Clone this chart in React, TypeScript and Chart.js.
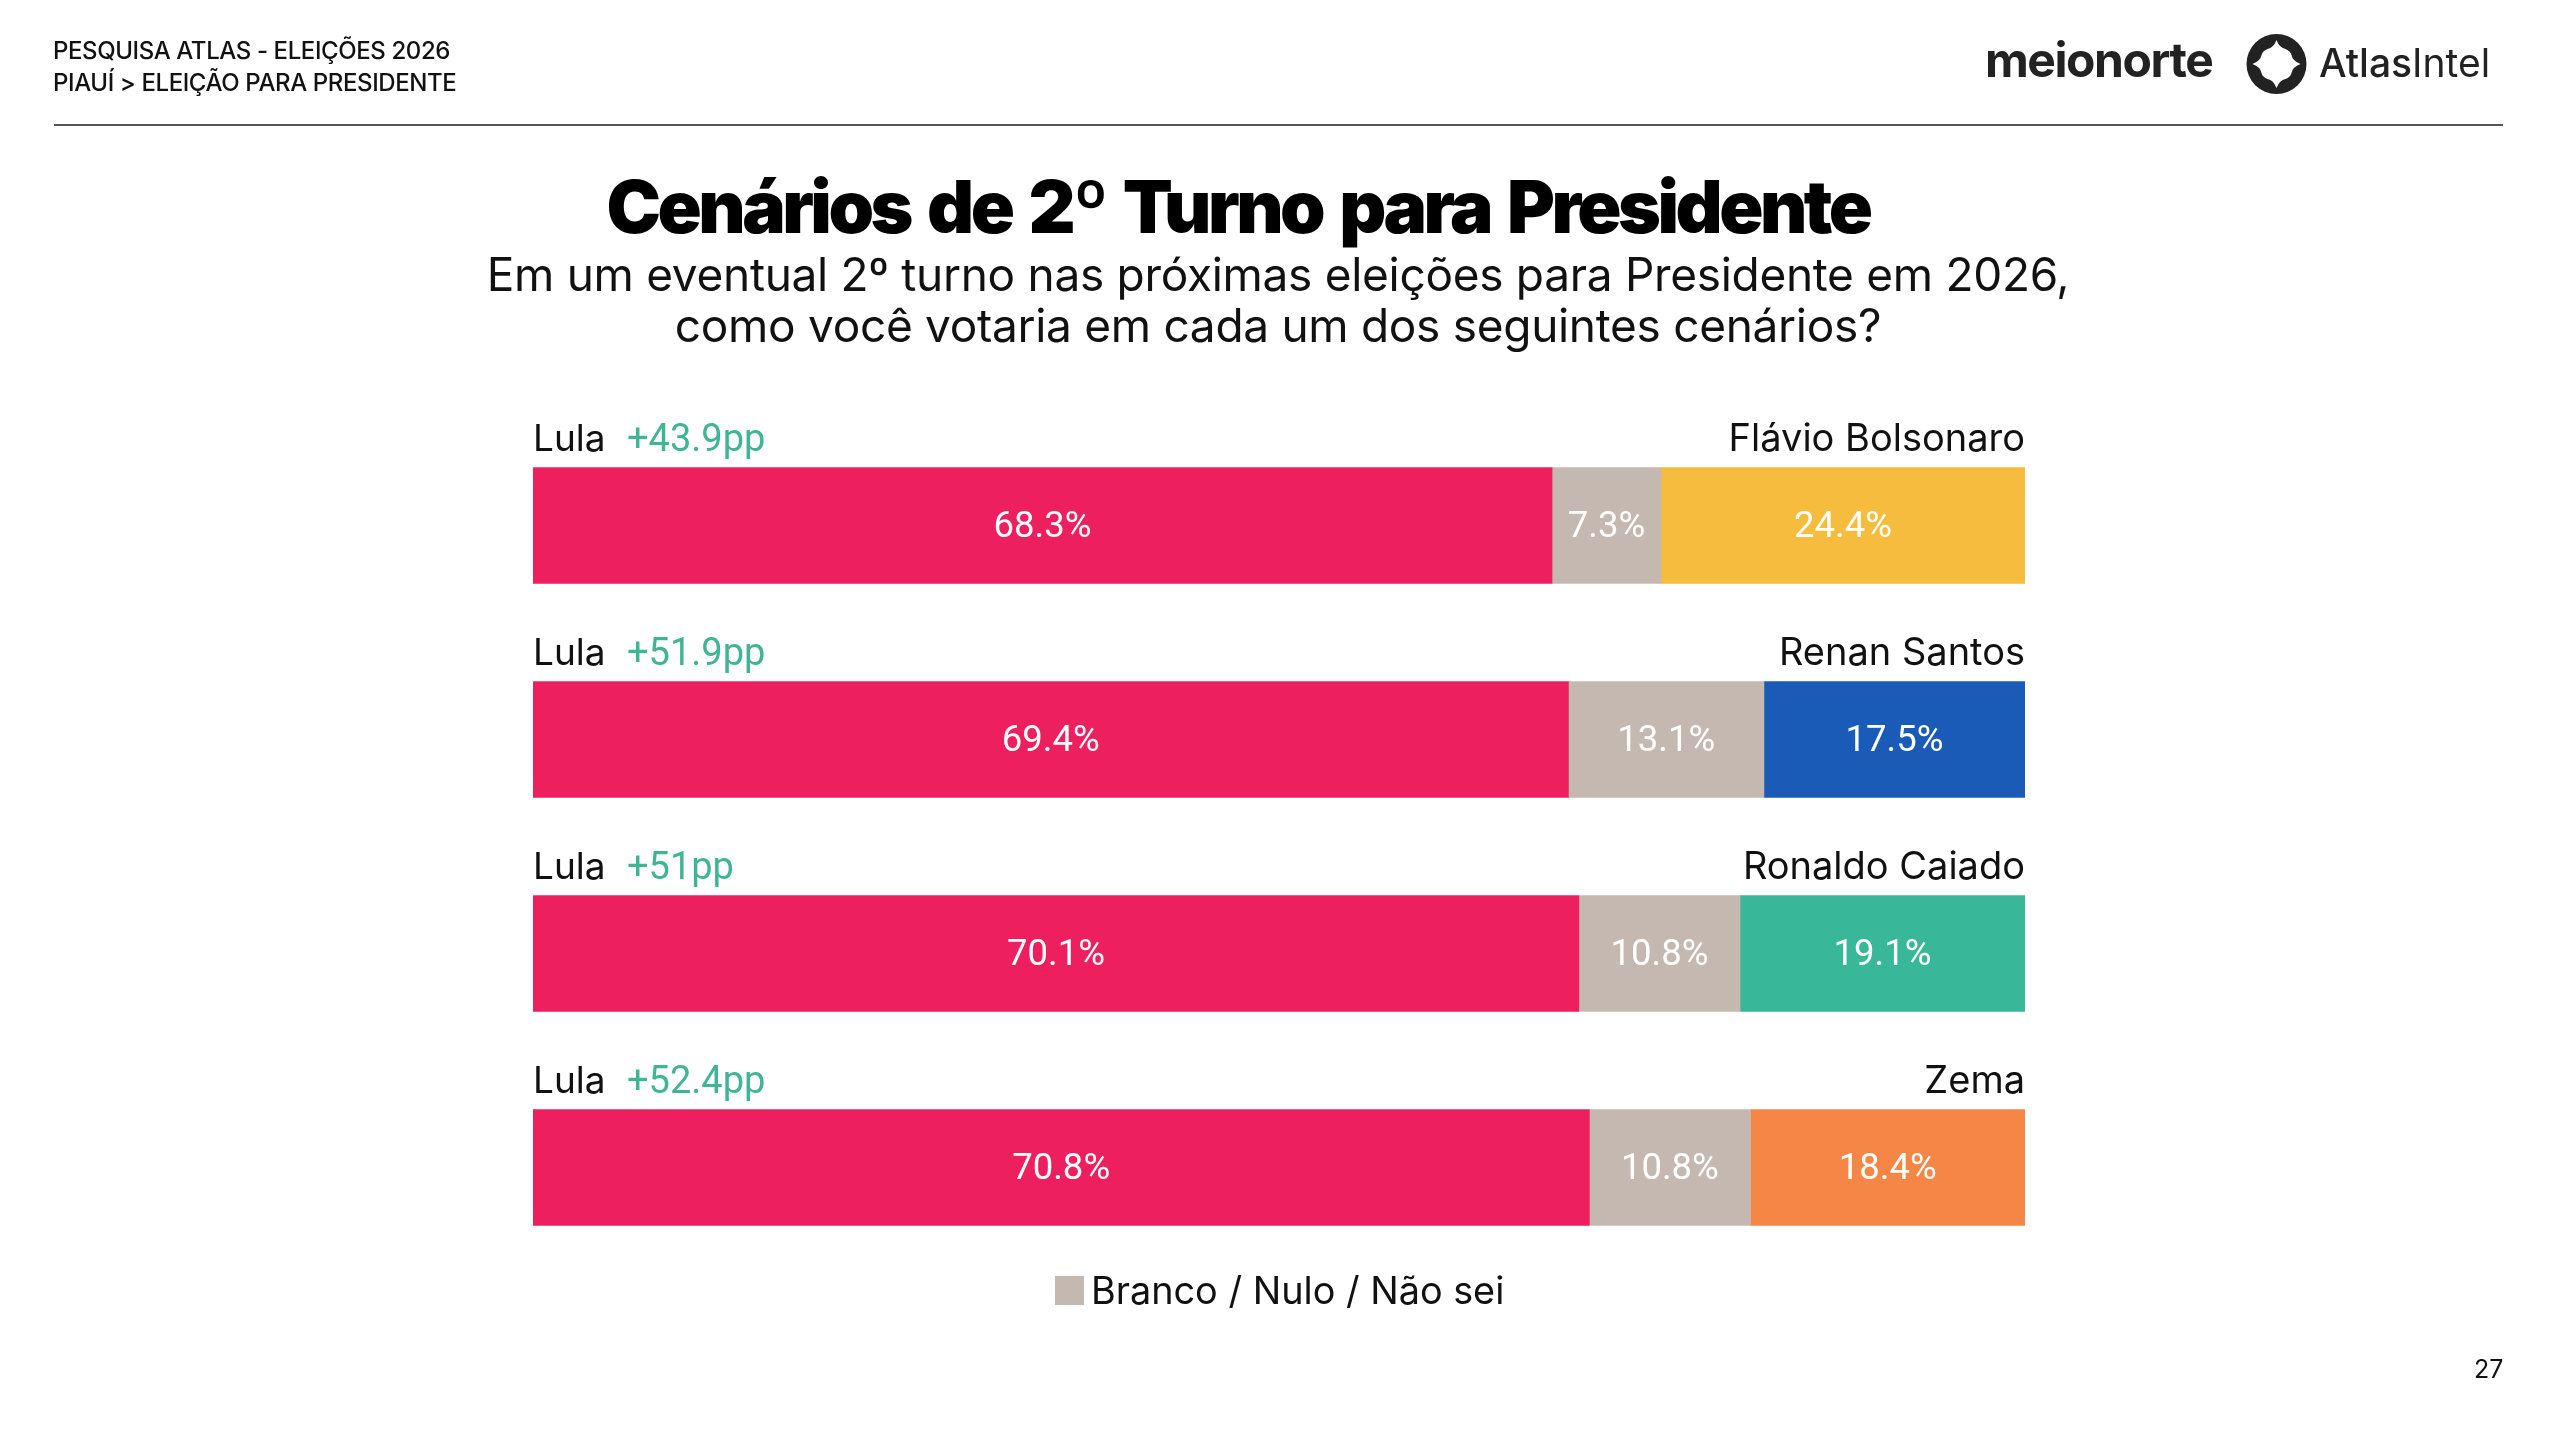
import React, { useEffect, useRef } from "react"
import { Chart, registerables } from "chart.js"

Chart.register(...registerables)

const FONT = "Inter"
const NUM_FONT = "Roboto"

const scenarios = ["Flávio Bolsonaro", "Renan Santos", "Ronaldo Caiado", "Zema"]
const lulaValues = [68.3, 69.4, 70.1, 70.8]
const blankValues = [7.3, 13.1, 10.8, 10.8]
const rivalValues = [24.4, 17.5, 19.1, 18.4]
const leads = ["+43.9pp", "+51.9pp", "+51pp", "+52.4pp"]
const rivalColors = ["#F6BC3E", "#1A5BB7", "#38B898", "#F58646"]
const LULA_COLOR = "#ED1F5F"
const BLANK_COLOR = "#C5B8B0"
const LEAD_COLOR = "#3FB596"
const BLANK_LABEL = "Branco / Nulo / Não sei"

// values inside the bars, names and leads above them, plus the one-item legend
const barText = {
  id: "barText",
  afterDatasetsDraw(chart: Chart) {
    const { ctx } = chart
    ctx.save()
    ctx.textBaseline = "middle"
    ctx.textAlign = "center"
    ctx.fillStyle = "#fff"
    ctx.font = `400 36.5px ${NUM_FONT}`
    chart.data.datasets.forEach((ds, i) => {
      chart.getDatasetMeta(i).data.forEach((el: any, j) => {
        ctx.fillText(`${ds.data[j]}%`, (el.x + el.base) / 2, el.y + 2)
      })
    })

    const lula = chart.getDatasetMeta(0).data
    ctx.textBaseline = "alphabetic"
    lula.forEach((el: any, j) => {
      const y = el.y - 58 - 17
      const { left, right } = chart.chartArea
      ctx.textAlign = "left"
      ctx.fillStyle = "#111"
      ctx.font = `400 37px ${FONT}`
      ctx.fillText("Lula", left, y)
      ctx.fillStyle = LEAD_COLOR
      ctx.font = `400 38px ${NUM_FONT}`
      ctx.fillText(leads[j], left + 94, y)
      ctx.textAlign = "right"
      ctx.fillStyle = "#111"
      ctx.font = `400 38px ${FONT}`
      ctx.fillText(scenarios[j], right, y)
    })

    // legend
    ctx.fillStyle = BLANK_COLOR
    ctx.fillRect(1055, 1276, 29, 29)
    ctx.textAlign = "left"
    ctx.fillStyle = "#111"
    ctx.font = `400 37.8px ${FONT}`
    ctx.fillText(BLANK_LABEL, 1091, 1304)
    ctx.restore()
  },
}

const pageStyle: React.CSSProperties = {
  position: "relative",
  width: 2560,
  height: 1440,
  background: "#fff",
  overflow: "hidden",
  fontFamily: FONT,
  color: "#111",
}

function place(left: number, top: number, extra: React.CSSProperties = {}): React.CSSProperties {
  return { position: "absolute", left, top, whiteSpace: "nowrap", ...extra }
}

export default function App() {
  const canvasRef = useRef<HTMLCanvasElement>(null)

  useEffect(() => {
    document.body.style.margin = "0"
    if (!canvasRef.current) return
    const chart = new Chart(canvasRef.current, {
      type: "bar",
      data: {
        labels: scenarios,
        datasets: [
          { label: "Lula", data: lulaValues, backgroundColor: LULA_COLOR },
          { label: BLANK_LABEL, data: blankValues, backgroundColor: BLANK_COLOR },
          { label: "Adversário", data: rivalValues, backgroundColor: rivalColors },
        ],
      },
      options: {
        indexAxis: "y",
        responsive: false,
        animation: false,
        devicePixelRatio: 1,
        layout: { padding: { left: 533, right: 535, top: 418.5, bottom: 165.5 } },
        datasets: { bar: { barThickness: 116 } },
        scales: {
          x: { stacked: true, min: 0, max: 100, display: false },
          y: { stacked: true, display: false },
        },
        plugins: { legend: { display: false }, tooltip: { enabled: false } },
      },
      plugins: [barText],
    })
    return () => chart.destroy()
  }, [])

  return (
    <div style={pageStyle}>
      <canvas ref={canvasRef} width={2560} height={1440} style={{ position: "absolute", left: 0, top: 0 }} />

      <div style={place(53, 35, { fontSize: 24, fontWeight: 500, lineHeight: "32px", letterSpacing: -0.4 })}>
        PESQUISA ATLAS - ELEIÇÕES 2026
        <br />
        PIAUÍ &gt; ELEIÇÃO PARA PRESIDENTE
      </div>
      <div style={{ position: "absolute", left: 54, top: 124, width: 2449, height: 2, background: "#555" }} />

      <div style={place(1985, 28, { fontSize: 48, fontWeight: 700, lineHeight: "64px", letterSpacing: -1.45, color: "#222" })}>meionorte</div>
      <svg style={{ position: "absolute", left: 2246, top: 34 }} width={61} height={60} viewBox="-30 -30 60 60">
        <circle r={30} fill="#222" />
        <path
          d="M0,-24 Q3,-16 9,-15 Q14,-13 15,-9 Q16,-3 24,0 Q16,3 15,9 Q14,13 9,15 Q3,16 0,24 Q-3,16 -9,15 Q-14,13 -15,9 Q-16,3 -24,0 Q-16,-3 -15,-9 Q-14,-13 -9,-15 Q-3,-16 0,-24 Z"
          fill="#fff"
        />
      </svg>
      <div style={place(2319, 39, { fontSize: 39, fontWeight: 400, lineHeight: "48px", color: "#222" })}>
        <span style={{ fontWeight: 500 }}>Atlas</span>Intel
      </div>

      <div style={{ ...place(0, 159, { width: 2560, textAlign: "center", fontSize: 73, fontWeight: 900, lineHeight: "96px", letterSpacing: -3.5, wordSpacing: 6, color: "#000" }), left: -42 }}>
        Cenários de 2º Turno para Presidente
      </div>
      <div style={{ ...place(0, 249, { width: 2560, textAlign: "center", fontSize: 46, fontWeight: 400, lineHeight: "51px", letterSpacing: -0.3, color: "#111" }), left: -2 }}>
        Em um eventual 2º turno nas próximas eleições para Presidente em 2026,
        <br />
        como você votaria em cada um dos seguintes cenários?
      </div>

      <div style={place(2474, 1353, { fontSize: 25, lineHeight: "32px" })}>27</div>
    </div>
  )
}
